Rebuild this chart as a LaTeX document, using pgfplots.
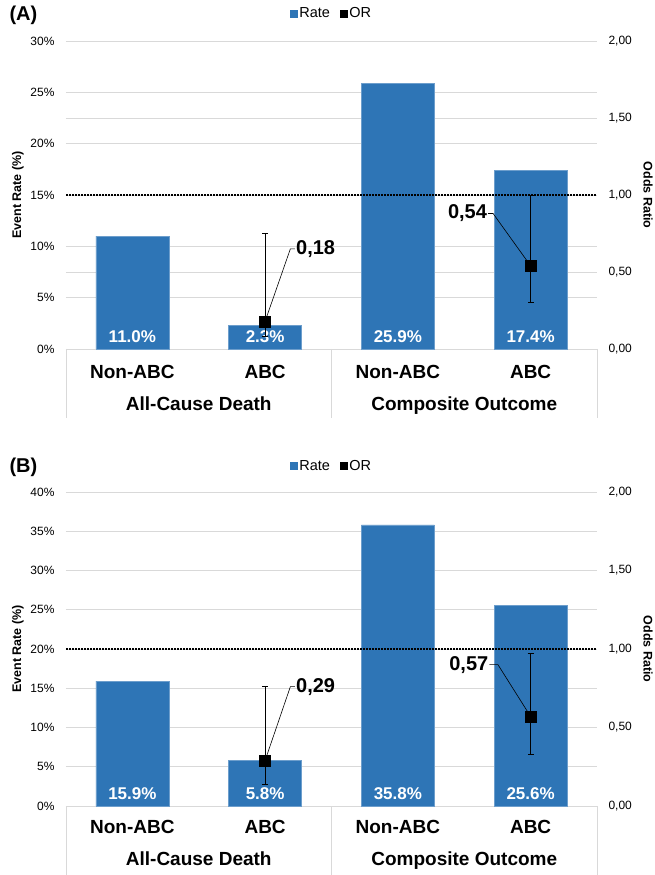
\documentclass[border=0pt]{standalone}
\usepackage{fontspec}
\setmainfont{Liberation Sans}
\usepackage{pgfplots}
\pgfplotsset{compat=1.18}

\definecolor{barblue}{RGB}{46,117,182}
\definecolor{gridgray}{RGB}{217,217,217}
\newcommand{\fs}[1]{\fontsize{#1}{#1}\selectfont}
\tikzset{sepline/.style={gridgray, line width=0.8pt}}

\pgfplotsset{
  /pgf/number format/assume math mode=true,
  rateaxis/.style={
    scale only axis, width=531pt,
    xmin=-0.5, xmax=3.5,
    xtick={0,1,2,3}, xticklabels={Non-ABC,ABC,Non-ABC,ABC},
    xticklabel style={font=\fs{19}\bfseries, anchor=base},
    major tick length=0pt,
    axis line style={draw=none},
    ymin=0,
    ymajorgrids, grid style={gridgray, line width=0.8pt},
    yticklabel={\pgfmathprintnumber{\tick}\%},
    yticklabel style={font=\fs{12}, xshift=-8pt},
    legend style={draw=none, legend columns=2, inner sep=1pt,
      /tikz/every even column/.append style={column sep=8pt}},
    legend image code/.code={\fill[#1] (0pt,-3.5pt) rectangle (7pt,3.5pt);},
    clip=false,
  },
  oraxis/.style={
    scale only axis, width=531pt,
    xmin=-0.5, xmax=3.5, hide x axis,
    axis y line*=right, axis line style={draw=none}, major tick length=0pt,
    ymin=0, ymax=2, ytick={0,0.5,1,1.5,2},
    yticklabel={\pgfmathprintnumber[fixed,fixed zerofill,precision=2,use comma]{\tick}},
    yticklabel style={font=\fs{12}, xshift=8pt},
    clip=false,
  },
  barlabels/.style={draw=none, mark=none, forget plot, point meta=explicit,
    nodes near coords={\pgfmathprintnumber[fixed,fixed zerofill,precision=1]{\pgfplotspointmeta}\%},
    every node near coord/.append style={anchor=base, yshift=6pt, text=white, font=\fs{17}\bfseries}},
  orplot/.style={only marks, mark=square*, mark size=5.5pt, black,
    error bars/.cd, y dir=both, y explicit,
    error bar style={line width=0.8pt, black},
    error mark options={rotate=90, mark size=3pt, line width=0.8pt}},
  oneline/.style={black, line width=1.8pt, dash pattern=on 1.5pt off 1.5pt},
}

\begin{document}
\begin{tikzpicture}
\useasboundingbox (0,0) rectangle (655pt,875pt);

% ---------------- panel A ----------------
\begin{axis}[rateaxis, at={(66pt,526pt)}, anchor=south west, height=308pt,
    ymax=30, ytick={0,5,...,30},
    xticklabel style={yshift=-30pt},
    legend style={at={(0.5,1.09)}, anchor=center}]
  \draw[sepline] (axis cs:-0.5,7.5) -- (axis cs:3.5,7.5);
  \draw[sepline] (axis cs:-0.5,22.5) -- (axis cs:3.5,22.5);
  \addplot[ybar, bar width=0.55, fill=barblue, draw=barblue!70!white, forget plot]
    coordinates {(0,11.0) (1,2.3) (2,25.9) (3,17.4)};
  \addplot[barlabels] coordinates {(0,0) [11.0] (1,0) [2.3] (2,0) [25.9] (3,0) [17.4]};
  \addlegendimage{barblue}
  \addlegendentry{\fs{14.5}Rate}
  \addlegendimage{black}
  \addlegendentry{\fs{14.5}OR}
  \draw[sepline] (axis cs:-0.5,0) -- ([yshift=-69pt]axis cs:-0.5,0);
  \draw[sepline] (axis cs:1.5,0) -- ([yshift=-69pt]axis cs:1.5,0);
  \draw[sepline] (axis cs:3.5,0) -- ([yshift=-69pt]axis cs:3.5,0);
  \node[font=\fs{19}\bfseries, anchor=base, yshift=-62pt] at (axis cs:0.5,0) {All-Cause Death};
  \node[font=\fs{19}\bfseries, anchor=base, yshift=-62pt] at (axis cs:2.5,0) {Composite Outcome};
\end{axis}
\begin{axis}[oraxis, at={(66pt,526pt)}, anchor=south west, height=308pt]
  \addplot[oneline] coordinates {(-0.5,1) (3.5,1)};
  \draw[black, line width=0.6pt] (axis cs:1,0.18) -- (axis cs:1.19,0.65) -- (axis cs:1.225,0.65);
  \node[font=\fs{20}\bfseries, anchor=west, inner sep=1pt] at (axis cs:1.225,0.65) {0,18};
  \draw[black, line width=0.6pt] (axis cs:3,0.54) -- (axis cs:2.717,0.88) -- (axis cs:2.68,0.88);
  \node[font=\fs{20}\bfseries, anchor=east, inner sep=1pt] at (axis cs:2.68,0.88) {0,54};
  \addplot[orplot] coordinates {(1,0.18) += (0,0.57) -= (0,0.10) (3,0.54) += (0,0.46) -= (0,0.24)};
\end{axis}
\node[font=\fs{20}\bfseries, anchor=west] at (6pt,860pt) {(A)};
\node[rotate=90, font=\fs{12.5}\bfseries] at (18pt,680pt) {Event Rate (\%)};
\node[rotate=-90, font=\fs{12.5}\bfseries] at (648pt,680pt) {Odds Ratio};

% ---------------- panel B ----------------
\begin{axis}[rateaxis, at={(66pt,69pt)}, anchor=south west, height=314pt,
    ymax=40, ytick={0,5,...,40},
    xticklabel style={yshift=-27pt},
    legend style={at={(0.5,1.083)}, anchor=center}]
  \addplot[ybar, bar width=0.55, fill=barblue, draw=barblue!70!white, forget plot]
    coordinates {(0,15.9) (1,5.8) (2,35.8) (3,25.6)};
  \addplot[barlabels] coordinates {(0,0) [15.9] (1,0) [5.8] (2,0) [35.8] (3,0) [25.6]};
  \addlegendimage{barblue}
  \addlegendentry{\fs{14.5}Rate}
  \addlegendimage{black}
  \addlegendentry{\fs{14.5}OR}
  \draw[sepline] (axis cs:-0.5,0) -- ([yshift=-69pt]axis cs:-0.5,0);
  \draw[sepline] (axis cs:1.5,0) -- ([yshift=-69pt]axis cs:1.5,0);
  \draw[sepline] (axis cs:3.5,0) -- ([yshift=-69pt]axis cs:3.5,0);
  \node[font=\fs{19}\bfseries, anchor=base, yshift=-59pt] at (axis cs:0.5,0) {All-Cause Death};
  \node[font=\fs{19}\bfseries, anchor=base, yshift=-59pt] at (axis cs:2.5,0) {Composite Outcome};
\end{axis}
\begin{axis}[oraxis, at={(66pt,69pt)}, anchor=south west, height=314pt]
  \addplot[oneline] coordinates {(-0.5,1) (3.5,1)};
  \draw[black, line width=0.6pt] (axis cs:1,0.29) -- (axis cs:1.19,0.76) -- (axis cs:1.225,0.76);
  \node[font=\fs{20}\bfseries, anchor=west, inner sep=1pt] at (axis cs:1.225,0.76) {0,29};
  \draw[black, line width=0.6pt] (axis cs:3,0.57) -- (axis cs:2.754,0.90) -- (axis cs:2.69,0.90);
  \node[font=\fs{20}\bfseries, anchor=east, inner sep=1pt] at (axis cs:2.69,0.90) {0,57};
  \addplot[orplot] coordinates {(1,0.29) += (0,0.47) -= (0,0.15) (3,0.57) += (0,0.40) -= (0,0.24)};
\end{axis}
\node[font=\fs{20}\bfseries, anchor=west] at (6pt,408pt) {(B)};
\node[rotate=90, font=\fs{12.5}\bfseries] at (18pt,226pt) {Event Rate (\%)};
\node[rotate=-90, font=\fs{12.5}\bfseries] at (648pt,226pt) {Odds Ratio};
\end{tikzpicture}
\end{document}
